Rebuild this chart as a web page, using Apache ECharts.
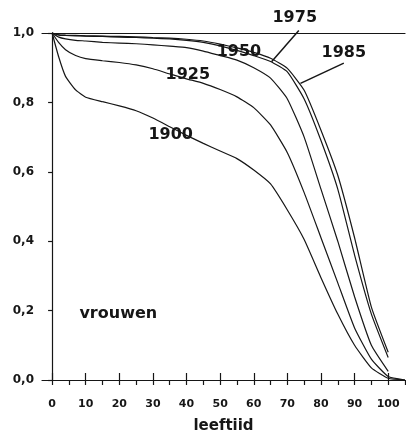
<!DOCTYPE html>
<html>
<head>
<meta charset="utf-8">
<script src="https://cdn.jsdelivr.net/npm/echarts@6/dist/echarts.min.js"></script>
<style>
  html, body { margin: 0; padding: 0; background: #fff; }
  #chartBox { width: 406px; height: 430px; }
</style>
</head>
<body>
<div id="chartBox"></div>
<script>
// leeftijd (x) en overlevingskans per geboortejaar
var ages = [0, 2, 4, 7, 10, 15, 20, 25, 30, 35, 40, 45, 50, 55, 60, 65, 70, 75, 80, 85, 90, 95, 100, 105];
var v1900 = [1.0, 0.93, 0.875, 0.836, 0.815, 0.802, 0.79, 0.776, 0.755, 0.73, 0.705, 0.682, 0.66, 0.638, 0.605, 0.565, 0.49, 0.405, 0.295, 0.19, 0.10, 0.035, 0.005, 0.0];
var v1925 = [1.0, 0.972, 0.952, 0.935, 0.926, 0.92, 0.915, 0.908, 0.897, 0.882, 0.868, 0.855, 0.837, 0.816, 0.785, 0.735, 0.655, 0.54, 0.41, 0.28, 0.15, 0.06, 0.01, 0.0];
var v1950 = [1.0, 0.988, 0.983, 0.979, 0.977, 0.973, 0.971, 0.969, 0.966, 0.962, 0.958, 0.948, 0.935, 0.922, 0.9, 0.87, 0.81, 0.70, 0.55, 0.40, 0.24, 0.10, 0.025, null];
var v1975 = [1.0, 0.994, 0.993, 0.992, 0.991, 0.99, 0.988, 0.987, 0.985, 0.983, 0.979, 0.973, 0.963, 0.95, 0.935, 0.918, 0.888, 0.81, 0.69, 0.55, 0.36, 0.19, 0.065, null];
var v1985 = [1.0, 0.995, 0.994, 0.993, 0.992, 0.991, 0.99, 0.989, 0.987, 0.985, 0.982, 0.977, 0.968, 0.957, 0.944, 0.927, 0.898, 0.835, 0.72, 0.59, 0.41, 0.21, 0.08, null];

var yTicks = [0, 0.2, 0.4, 0.6, 0.8, 1.0];
var xLabelTicks = [0, 10, 20, 30, 40, 50, 60, 70, 80, 90, 100];
var xMinorTicks = [0, 5, 10, 15, 20, 25, 30, 35, 40, 45, 50, 55, 60, 65, 70, 75, 80, 85, 90, 95, 100, 105];

// labels in the plot (data coordinates)
var noteTexts = ['1975', '1950', '1985', '1925', '1900', 'vrouwen'];
var noteAges = [72.2, 55.6, 86.8, 40.4, 35.3, 19.7];
var noteValues = [1.043, 0.945, 0.942, 0.879, 0.706, 0.19];
// pointer lines [age1, value1, age2, value2]
var pointer1975 = [73.4, 1.007, 65.3, 0.917];
var pointer1985 = [86.8, 0.913, 73.9, 0.855];

var ink = '#161616';
var fontName = 'DejaVu Sans';

function pairs(vals) {
    var out = [];
    for (var i = 0; i < ages.length; i++) {
        out.push([ages[i], vals[i]]);
    }
    return out;
}

function makeLine(name, vals) {
    return {
        name: name,
        type: 'line',
        data: pairs(vals),
        symbol: 'none',
        smooth: 0.15,
        connectNulls: false,
        clip: false,
        lineStyle: { color: ink, width: 1.2 },
        animation: false
    };
}

var chart = echarts.init(document.getElementById('chartBox'));
var option = {
    animation: false,
    grid: { left: 42, right: 1, top: 33, bottom: 50, containLabel: false, outerBoundsMode: 'none' },
    xAxis: [
        {
            type: 'value',
            min: -3,
            max: 105,
            position: 'bottom',
            name: 'leeftiid',
            nameLocation: 'middle',
            nameGap: 39,
            nameTextStyle: { fontFamily: fontName, fontWeight: 'bold', fontSize: 15, color: ink },
            axisLine: { show: true, onZero: false, lineStyle: { color: ink, width: 1.2 } },
            axisTick: { show: true, inside: false, length: 5, customValues: xMinorTicks, lineStyle: { color: ink, width: 1.2 } },
            axisLabel: { customValues: xLabelTicks, margin: 19, fontFamily: fontName, fontWeight: 'bold', fontSize: 11, color: ink },
            splitLine: { show: false }
        },
        {
            type: 'value',
            min: -3,
            max: 105,
            position: 'bottom',
            axisLine: { show: false },
            axisTick: { show: true, inside: true, length: 7, customValues: xLabelTicks, lineStyle: { color: ink, width: 1.2 } },
            axisLabel: { show: false },
            splitLine: { show: false }
        },
        {
            type: 'value',
            min: -3,
            max: 105,
            position: 'top',
            axisLine: { show: true, lineStyle: { color: ink, width: 1.2 } },
            axisTick: { show: false },
            axisLabel: { show: false },
            splitLine: { show: false }
        }
    ],
    yAxis: {
        type: 'value',
        min: 0,
        max: 1,
        interval: 0.2,
        axisLine: { show: true, lineStyle: { color: ink, width: 1.2 } },
        axisTick: { show: true, length: 4, customValues: yTicks, lineStyle: { color: ink, width: 1.2 } },
        axisLabel: {
            margin: 8,
            fontFamily: fontName,
            fontWeight: 'bold',
            fontSize: 12,
            color: ink,
            formatter: function (v) { return v.toFixed(1).replace('.', ','); }
        },
        splitLine: { show: false }
    },
    series: [
        makeLine('1900', v1900),
        makeLine('1925', v1925),
        makeLine('1950', v1950),
        makeLine('1975', v1975),
        makeLine('1985', v1985)
    ]
};
chart.setOption(option);

// texts and pointers placed through the axes' scales
var graphics = [];
for (var i = 0; i < noteTexts.length; i++) {
    var p = chart.convertToPixel({ gridIndex: 0 }, [noteAges[i], noteValues[i]]);
    graphics.push({
        type: 'text',
        x: p[0],
        y: p[1],
        style: {
            text: noteTexts[i],
            fill: ink,
            font: 'bold 16px "' + fontName + '"',
            textAlign: 'center',
            textVerticalAlign: 'middle'
        }
    });
}
[pointer1975, pointer1985].forEach(function (pt) {
    var a = chart.convertToPixel({ gridIndex: 0 }, [pt[0], pt[1]]);
    var b = chart.convertToPixel({ gridIndex: 0 }, [pt[2], pt[3]]);
    graphics.push({
        type: 'line',
        shape: { x1: a[0], y1: a[1], x2: b[0], y2: b[1] },
        style: { stroke: ink, lineWidth: 1.5 }
    });
});
chart.setOption({ graphic: graphics });
</script>
</body>
</html>
